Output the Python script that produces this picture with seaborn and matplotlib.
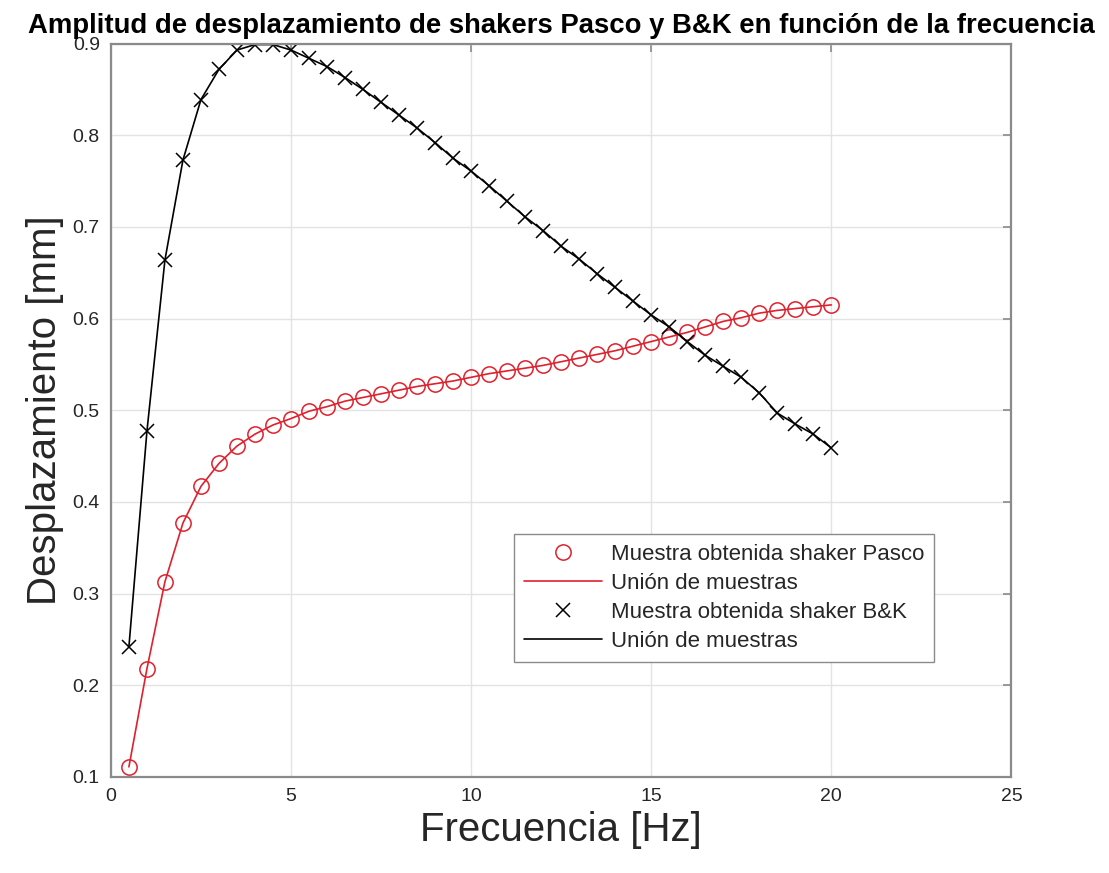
import numpy as np
import pandas as pd
import matplotlib
matplotlib.use('Agg')
import matplotlib.pyplot as plt
import seaborn as sns

# frecuencias de muestreo [Hz]
freq = [0.5, 1.0, 1.5, 2.0, 2.5, 3.0, 3.5, 4.0, 4.5, 5.0,
        5.5, 6.0, 6.5, 7.0, 7.5, 8.0, 8.5, 9.0, 9.5, 10.0,
        10.5, 11.0, 11.5, 12.0, 12.5, 13.0, 13.5, 14.0, 14.5, 15.0,
        15.5, 16.0, 16.5, 17.0, 17.5, 18.0, 18.5, 19.0, 19.5, 20.0]

# desplazamiento shaker Pasco [mm]
pasco = [0.111, 0.218, 0.313, 0.377, 0.417, 0.442, 0.461, 0.474, 0.484, 0.491,
         0.499, 0.504, 0.510, 0.514, 0.518, 0.522, 0.526, 0.529, 0.532, 0.536,
         0.540, 0.543, 0.546, 0.549, 0.553, 0.557, 0.561, 0.565, 0.570, 0.575,
         0.580, 0.585, 0.591, 0.597, 0.601, 0.606, 0.609, 0.611, 0.613, 0.615]

# desplazamiento shaker B&K [mm]
bk = [0.242, 0.477, 0.664, 0.773, 0.839, 0.872, 0.893, 0.899, 0.899, 0.893,
      0.884, 0.875, 0.863, 0.850, 0.836, 0.822, 0.808, 0.792, 0.775, 0.761,
      0.745, 0.728, 0.711, 0.696, 0.679, 0.665, 0.649, 0.634, 0.619, 0.604,
      0.591, 0.575, 0.560, 0.548, 0.536, 0.519, 0.497, 0.485, 0.474, 0.459]

df = pd.DataFrame({'freq': freq, 'pasco': pasco, 'bk': bk})

sns.set_style('white')
plt.rcParams['font.family'] = ['Liberation Sans', 'DejaVu Sans']

RED = '#e0202c'
GRAY = '#262626'

fig = plt.figure(figsize=(11.09, 8.73), dpi=100)
ax = fig.add_axes([0.100, 0.110, 0.812, 0.840])

# muestras y uniones
sns.lineplot(data=df, x='freq', y='pasco', ax=ax, sort=False, errorbar=None,
             linestyle='', marker='o', markersize=11, markerfacecolor='none',
             markeredgecolor=RED, markeredgewidth=1.1, color=RED)
sns.lineplot(data=df, x='freq', y='pasco', ax=ax, sort=False, errorbar=None,
             color=RED, linewidth=1.2)
sns.lineplot(data=df, x='freq', y='bk', ax=ax, sort=False, errorbar=None,
             linestyle='', marker='x', markersize=10, markeredgecolor='black',
             markeredgewidth=1.1, color='black')
sns.lineplot(data=df, x='freq', y='bk', ax=ax, sort=False, errorbar=None,
             color='black', linewidth=1.2)

ax.set_xlim(0, 25)
ax.set_ylim(0.1, 0.9)
ax.set_xticks([0, 5, 10, 15, 20, 25])
ax.set_yticks(np.arange(0.1, 0.91, 0.1))
ax.set_yticklabels([f'{v:.1f}' for v in np.arange(0.1, 0.91, 0.1)])

ax.grid(True, color='#e3e3e3', linewidth=1.0)
ax.set_axisbelow(True)
for s in ax.spines.values():
    s.set_color('#8a8a8a')
    s.set_linewidth(1.6)
ax.tick_params(direction='in', top=True, right=True, length=6, width=1.2,
               color='#8a8a8a', labelsize=14, labelcolor=GRAY, pad=8)

ax.set_xlabel('Frecuencia [Hz]', fontsize=29, color=GRAY, labelpad=4)
ax.set_ylabel('Desplazamiento [mm]', fontsize=29, color=GRAY, labelpad=6)
ax.set_title('Amplitud de desplazamiento de shakers Pasco y B&K en función de la frecuencia',
             fontsize=19.8, fontweight='bold', color='black', pad=8)

lines = ax.get_lines()
ax.legend(lines[:4],
          ['Muestra obtenida shaker Pasco', 'Unión de muestras',
           'Muestra obtenida shaker B&K', 'Unión de muestras'],
          loc='upper left', bbox_to_anchor=(0.448, 0.332), borderaxespad=0,
          fontsize=16, frameon=True, fancybox=False, edgecolor='#8a8a8a',
          framealpha=1, handlelength=3.5, handletextpad=0.4, labelspacing=0.37,
          borderpad=0.45)

fig.savefig('out.png', dpi=100)
